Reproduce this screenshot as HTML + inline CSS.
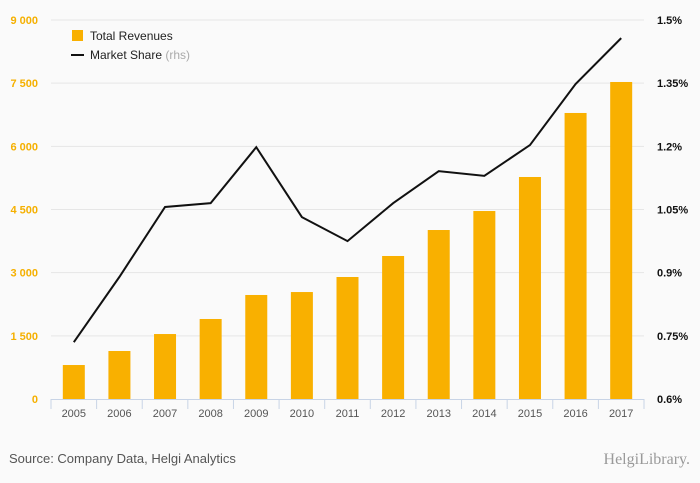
<!DOCTYPE html>
<html><head><meta charset="utf-8"><style>
body{margin:0;background:#fafafa;}
svg{display:block;font-family:"Liberation Sans",sans-serif;}
</style></head><body>
<svg id="c" width="700" height="483"></svg>
<script>
const categories=["2005","2006","2007","2008","2009","2010","2011","2012","2013","2014","2015","2016","2017"];
const revenues=[807,1140,1543,1900,2470,2540,2897,3396,4013,4464,5272,6792,7528];
const marketShare=[0.735,0.89,1.056,1.065,1.198,1.032,0.975,1.065,1.141,1.130,1.203,1.348,1.457];
const leftTicks=[0,1500,3000,4500,6000,7500,9000];
const leftTickLabels=["0","1 500","3 000","4 500","6 000","7 500","9 000"];
const rightTicks=[0.6,0.75,0.9,1.05,1.2,1.35,1.5];
const rightTickLabels=["0.6%","0.75%","0.9%","1.05%","1.2%","1.35%","1.5%"];
const NS="http://www.w3.org/2000/svg",svg=document.getElementById('c');
const X0=51,X1=644,YT=20,YB=399,step=(X1-X0)/categories.length;
const xc=i=>X0+step*(i+0.5);
const yl=v=>YB-(v/9000)*(YB-YT);
const yr=v=>YB-((v-0.6)/0.9)*(YB-YT);
function mk(t,a,txt){const e=document.createElementNS(NS,t);for(const k in a)e.setAttribute(k,a[k]);if(txt!==undefined)e.textContent=txt;svg.appendChild(e);return e;}
leftTicks.forEach((v,i)=>{
 if(i>0){const g=mk('line',{x1:X0,x2:X1,y1:yl(v),y2:yl(v),stroke:'#e6e6e6'});
 
 }
 const t=mk('text',{x:38,y:yl(v)+4,'text-anchor':'end','font-size':11,fill:'#f5b000','font-weight':'bold'},leftTickLabels[i]);
 
 
});
rightTicks.forEach((v,i)=>{
 const t=mk('text',{x:657,y:yr(v)+4,'font-size':11,fill:'#111','font-weight':'bold'},rightTickLabels[i]);
 
 
});
const ax=mk('line',{x1:X0,x2:X1,y1:YB+0.5,y2:YB+0.5,stroke:'#c8d4e6'});


for(let i=0;i<=categories.length;i++){
 const tk=mk('line',{x1:X0+step*i,x2:X0+step*i,y1:YB,y2:YB+10,stroke:'#c8d4e6'});
 
 
}
categories.forEach((c,i)=>{
 const b=mk('rect',{x:xc(i)-11,y:yl(revenues[i]),width:22,height:YB-yl(revenues[i]),fill:'#f9b000'});
 
 
 const t=mk('text',{x:xc(i),y:417,'text-anchor':'middle','font-size':11,fill:'#555'},c);
 
 
});
const pl=mk('polyline',{points:marketShare.map((v,i)=>xc(i)+','+yr(v)).join(' '),fill:'none',stroke:'#111','stroke-width':2});


const l1=mk('rect',{x:72,y:30,width:11,height:11,fill:'#f9b000'});


const lt1=mk('text',{x:90,y:40,'font-size':12,fill:'#222'},'Total Revenues');


const l2=mk('line',{x1:71,x2:84,y1:55,y2:55,stroke:'#111','stroke-width':2});


const lt2=mk('text',{x:90,y:59,'font-size':12,fill:'#222'},'Market Share ');


const sp=document.createElementNS(NS,'tspan');sp.setAttribute('fill','#aaa');sp.textContent='(rhs)';lt2.appendChild(sp);
const src=mk('text',{x:9,y:463,'font-size':13,fill:'#555'},'Source: Company Data, Helgi Analytics');


const logo=mk('text',{x:690,y:464,'text-anchor':'end','font-size':16,fill:'#999','font-family':'Liberation Serif, serif'},'HelgiLibrary.');


</script>
</body></html>
